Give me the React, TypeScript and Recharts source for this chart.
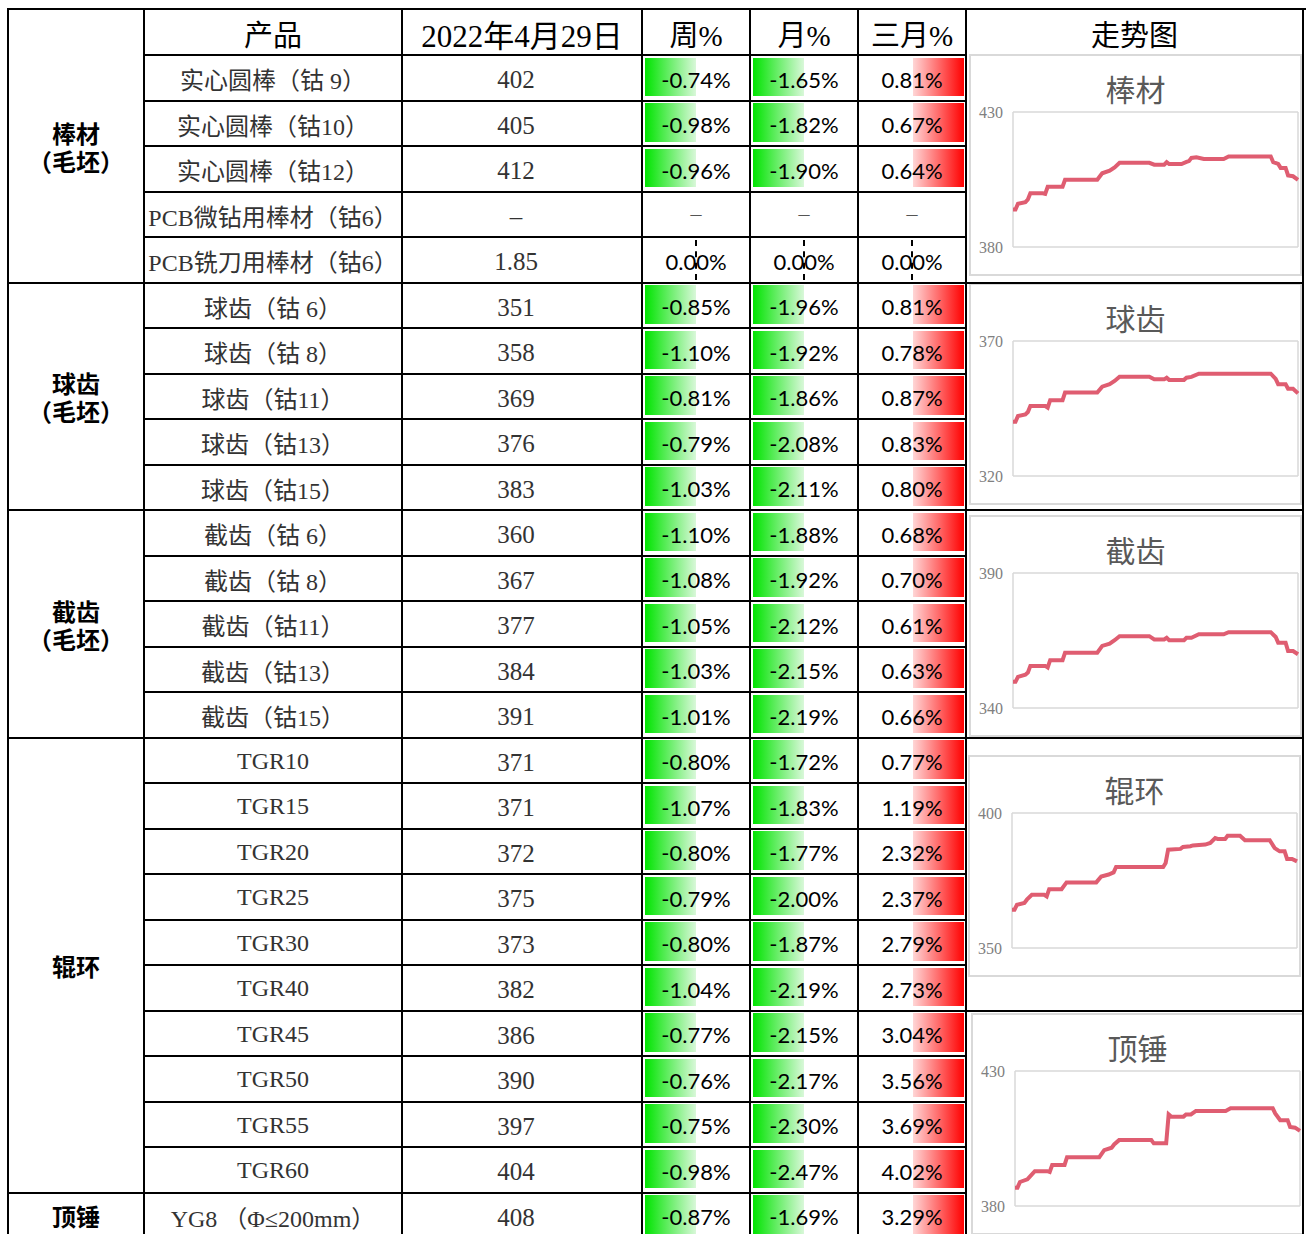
import React from 'react';
import { LineChart, Line, XAxis, YAxis, CartesianGrid } from 'recharts';

// table rows
const products = [
  '实心圆棒（钴 9）', '实心圆棒（钴10）', '实心圆棒（钴12）', 'PCB微钻用棒材（钴6）', 'PCB铣刀用棒材（钴6）',
  '球齿（钴 6）', '球齿（钴 8）', '球齿（钴11）', '球齿（钴13）', '球齿（钴15）',
  '截齿（钴 6）', '截齿（钴 8）', '截齿（钴11）', '截齿（钴13）', '截齿（钴15）',
  'TGR10', 'TGR15', 'TGR20', 'TGR25', 'TGR30', 'TGR40', 'TGR45', 'TGR50', 'TGR55', 'TGR60',
  'YG8 （Φ≤200mm）',
];
const prices = [
  '402', '405', '412', '–', '1.85',
  '351', '358', '369', '376', '383',
  '360', '367', '377', '384', '391',
  '371', '371', '372', '375', '373', '382', '386', '390', '397', '404',
  '408',
];
const weekPct = [
  -0.74, -0.98, -0.96, null, 0,
  -0.85, -1.10, -0.81, -0.79, -1.03,
  -1.10, -1.08, -1.05, -1.03, -1.01,
  -0.80, -1.07, -0.80, -0.79, -0.80, -1.04, -0.77, -0.76, -0.75, -0.98,
  -0.87,
];
const monthPct = [
  -1.65, -1.82, -1.90, null, 0,
  -1.96, -1.92, -1.86, -2.08, -2.11,
  -1.88, -1.92, -2.12, -2.15, -2.19,
  -1.72, -1.83, -1.77, -2.00, -1.87, -2.19, -2.15, -2.17, -2.30, -2.47,
  -1.69,
];
const quarterPct = [
  0.81, 0.67, 0.64, null, 0,
  0.81, 0.78, 0.87, 0.83, 0.80,
  0.68, 0.70, 0.61, 0.63, 0.66,
  0.77, 1.19, 2.32, 2.37, 2.79, 2.73, 3.04, 3.56, 3.69, 4.02,
  3.29,
];

const groupNames = ['棒材', '球齿', '截齿', '辊环', '顶锤'];
const groupSubs = ['（毛坯）', '（毛坯）', '（毛坯）', '', ''];
const groupRows = [5, 5, 5, 10, 1];
const headers = ['产品', '2022年4月29日', '周%', '月%', '三月%', '走势图'];

// trend charts: days since Jan 1, price
const monthTicks = [0, 31, 59, 90];

const barDays = [0, 1, 2, 5, 6, 7, 12, 13, 14, 20, 21, 34, 36, 39, 41, 43, 55, 57, 61, 62, 63, 68, 70, 71, 72, 74, 77, 85, 87, 104, 105, 107, 108, 110, 111, 113, 115];
const barPrices = [393.9, 393.9, 396.0, 396.6, 397.6, 399.9, 399.9, 399.7, 402.3, 402.3, 404.9, 404.9, 407.3, 408.3, 409.5, 411.2, 411.2, 410.5, 410.5, 411.4, 410.7, 410.7, 411.5, 411.8, 413.0, 413.2, 412.6, 412.6, 413.5, 413.5, 411.4, 410.8, 409.3, 409.3, 406.5, 406.2, 404.9];

const ballDays = [0, 1, 2, 5, 6, 7, 13, 14, 15, 20, 21, 34, 36, 39, 41, 43, 55, 57, 61, 62, 63, 69, 70, 72, 75, 104, 106, 107, 110, 111, 113, 115];
const ballPrices = [340.1, 340.1, 342.2, 342.8, 343.7, 345.9, 345.9, 345.3, 348.1, 348.1, 350.9, 350.9, 353.1, 354.0, 355.2, 356.8, 356.8, 355.8, 355.8, 356.4, 355.6, 355.6, 356.4, 356.7, 357.9, 357.9, 356.0, 354.0, 354.0, 352.3, 352.3, 350.6];

const pickDays = [0, 1, 2, 5, 6, 7, 13, 14, 15, 20, 21, 34, 36, 39, 41, 43, 55, 57, 61, 62, 63, 69, 70, 72, 75, 85, 87, 104, 106, 107, 110, 111, 113, 115];
const pickPrices = [349.7, 349.7, 351.5, 352.3, 353.1, 355.6, 355.6, 355.0, 357.7, 357.7, 360.5, 360.5, 363.0, 363.8, 365.1, 366.6, 366.6, 365.4, 365.4, 366.0, 365.1, 365.1, 366.0, 366.0, 367.3, 367.3, 368.1, 368.1, 366.3, 364.2, 364.2, 361.1, 361.1, 359.9];

const rollDays = [0, 1, 2, 5, 6, 8, 13, 14, 15, 20, 22, 34, 36, 39, 41, 42, 61, 62, 63, 68, 69, 72, 73, 78, 80, 82, 83, 86, 87, 92, 94, 104, 106, 108, 110, 111, 113, 115];
const rollPrices = [364.2, 364.2, 366.0, 366.7, 367.9, 369.7, 369.7, 369.1, 371.8, 371.8, 374.3, 374.3, 376.5, 377.2, 378.0, 380.0, 380.0, 381.5, 386.4, 386.7, 387.4, 387.7, 388.0, 388.3, 388.9, 390.7, 390.4, 390.4, 391.6, 391.6, 389.9, 389.9, 387.0, 385.8, 385.8, 383.0, 383.0, 382.1];

const hammerDays = [0, 1, 2, 5, 6, 8, 13, 14, 15, 20, 21, 34, 36, 39, 40, 42, 55, 56, 61, 62, 63, 68, 69, 71, 73, 85, 87, 104, 105, 107, 110, 111, 113, 115];
const hammerPrices = [386.8, 386.8, 388.9, 389.9, 390.9, 392.9, 392.9, 392.6, 395.2, 395.2, 398.1, 398.1, 400.7, 401.6, 402.8, 404.4, 404.4, 403.2, 403.2, 413.9, 413.1, 413.1, 413.9, 413.9, 415.2, 415.2, 416.2, 416.2, 414.3, 411.8, 411.8, 409.3, 409.0, 407.8];

const CJK = '"Noto Sans CJK SC", sans-serif';
const SERIF = '"Liberation Serif", "Noto Sans CJK SC", serif';
const PCT = 'Lato, "Noto Sans", sans-serif';

const colX = [8, 144, 402, 642, 750, 858, 966, 1303];
const ROW0 = 55;
const ROW_H = 45.5;
const rowTop = (i: number) => ROW0 + i * ROW_H;

function HLine({ y, x1, x2 }: { y: number; x1: number; x2: number }) {
  return <div style={{ position: 'absolute', left: x1, top: y - 1, width: x2 - x1, height: 2, background: '#000' }} />;
}
function VLine({ x, y1, y2 }: { x: number; y1: number; y2: number }) {
  return <div style={{ position: 'absolute', left: x - 1, top: y1, width: 2, height: y2 - y1, background: '#000' }} />;
}

function Cell({ x1, x2, y1, y2, children, style }: {
  x1: number; x2: number; y1: number; y2: number; children?: React.ReactNode; style?: React.CSSProperties;
}) {
  return (
    <div style={{
      position: 'absolute', left: x1, top: y1, width: x2 - x1, height: y2 - y1, boxSizing: 'border-box',
      display: 'flex', alignItems: 'center', justifyContent: 'center', whiteSpace: 'nowrap', ...style,
    }}>
      {children}
    </div>
  );
}

function PctCell({ value, col, row }: { value: number | null; col: number; row: number }) {
  const x1 = colX[col];
  const x2 = colX[col + 1];
  const mid = (x1 + x2) / 2;
  const y1 = rowTop(row);
  const y2 = y1 + ROW_H;
  if (value === null) {
    return <Cell x1={x1} x2={x2} y1={y1} y2={y2} style={{ fontFamily: SERIF, fontSize: 22, color: '#555' }}>–</Cell>;
  }
  return (
    <>
      {value < 0 && (
        <div style={{
          position: 'absolute', left: x1 + 3, top: y1 + 2.5, width: mid - x1 - 3, height: ROW_H - 7,
          background: 'linear-gradient(to right, #00e400 0%, #d9f8d9 100%)',
        }} />
      )}
      {value > 0 && (
        <div style={{
          position: 'absolute', left: mid + 1, top: y1 + 2.5, width: x2 - mid - 3, height: ROW_H - 7,
          background: 'linear-gradient(to right, #ffd6d6 0%, #ff0000 100%)',
        }} />
      )}
      {value === 0 && (
        <div style={{ position: 'absolute', left: mid - 1, top: y1 + 3, height: ROW_H - 6, borderLeft: '2px dashed #000' }} />
      )}
      <Cell x1={x1} x2={x2} y1={y1} y2={y2} style={{ fontFamily: PCT, fontSize: 22, color: '#000', paddingTop: 3 }}>
        {value.toFixed(2) + '%'}
      </Cell>
    </>
  );
}

function TrendChart({ title, days, prices, yMin, yMax, left, top }: {
  title: string; days: number[]; prices: number[]; yMin: number; yMax: number; left: number; top: number;
}) {
  const data = days.map((d, i) => ({ d, v: prices[i] }));
  return (
    <div style={{
      position: 'absolute', left, top, width: 333, height: 222, boxSizing: 'border-box',
      border: '2px solid #d9d9d9', background: '#fff',
    }}>
      <div style={{
        position: 'absolute', left: 0, right: 0, top: 12, lineHeight: '40px', textAlign: 'center',
        fontSize: 30, color: '#595959', fontFamily: CJK,
      }}>{title}</div>
      <div style={{ position: 'absolute', left: 0, top: 0 }}>
        <LineChart width={329} height={218} data={data} margin={{ top: 56, right: 2, bottom: 0, left: 0 }}>
          <CartesianGrid stroke="#d9d9d9" strokeWidth={1.5} />
          <XAxis type="number" dataKey="d" domain={[0, 115]} ticks={monthTicks} tick={false}
            axisLine={false} tickLine={false} height={27} />
          <YAxis type="number" domain={[yMin, yMax]} ticks={[yMin, yMax]} width={42}
            tick={{ fill: '#808080', fontSize: 16, fontFamily: SERIF }}
            axisLine={false} tickLine={false} tickMargin={4} />
          <Line type="linear" dataKey="v" stroke="#DF5D71" strokeWidth={4} dot={false} isAnimationActive={false} />
        </LineChart>
      </div>
    </div>
  );
}

export default function App() {
  const groupStarts = groupRows.map((_, g) => groupRows.slice(0, g).reduce((a, b) => a + b, 0));
  const boundaries = groupStarts.slice(1).concat([26]);
  const bottom = 1234;

  return (
    <div style={{ position: 'absolute', left: 0, top: 0, width: 1306, height: 1234, overflow: 'hidden', background: '#fff' }}>
      {/* header */}
      {headers.map((h, i) => (
        <Cell key={h} x1={colX[i + 1]} x2={colX[i + 2]} y1={9} y2={55}
          style={{ fontFamily: SERIF, fontSize: i === 1 ? 31 : 29, color: '#000', paddingTop: 2 }}>{h}</Cell>
      ))}

      {/* group labels */}
      {groupNames.map((g, i) => {
        const y1 = i === 0 ? 9 : rowTop(groupStarts[i]);
        const y2 = rowTop(groupStarts[i] + groupRows[i]);
        return (
          <Cell key={g} x1={colX[0]} x2={colX[1]} y1={y1} y2={Math.min(y2, bottom + 4)}
            style={{
              fontFamily: CJK, fontSize: 24, fontWeight: 600, color: '#000', lineHeight: '28px',
              whiteSpace: 'pre-line', textAlign: 'center', paddingTop: 2,
            }}>
            {groupSubs[i] ? g + '\n' + groupSubs[i] : g}
          </Cell>
        );
      })}

      {/* rows */}
      {products.map((p, r) => (
        <React.Fragment key={p}>
          <Cell x1={colX[1]} x2={colX[2]} y1={rowTop(r)} y2={rowTop(r) + ROW_H}
            style={{ fontFamily: SERIF, fontSize: 24, color: '#333', paddingTop: 2 }}>{p}</Cell>
          <Cell x1={colX[2]} x2={colX[3]} y1={rowTop(r)} y2={rowTop(r) + ROW_H}
            style={{ fontFamily: SERIF, fontSize: 25, color: '#333', paddingTop: 5, paddingRight: 12 }}>{prices[r]}</Cell>
          <PctCell value={weekPct[r]} col={3} row={r} />
          <PctCell value={monthPct[r]} col={4} row={r} />
          <PctCell value={quarterPct[r]} col={5} row={r} />
        </React.Fragment>
      ))}

      {/* trend charts */}
      <TrendChart title="棒材" days={barDays} prices={barPrices} yMin={380} yMax={430} left={969} top={54} />
      <TrendChart title="球齿" days={ballDays} prices={ballPrices} yMin={320} yMax={370} left={969} top={283} />
      <TrendChart title="截齿" days={pickDays} prices={pickPrices} yMin={340} yMax={390} left={969} top={515} />
      <TrendChart title="辊环" days={rollDays} prices={rollPrices} yMin={350} yMax={400} left={968} top={755} />
      <TrendChart title="顶锤" days={hammerDays} prices={hammerPrices} yMin={380} yMax={430} left={971} top={1013} />

      {/* grid lines */}
      <HLine y={9} x1={7} x2={1306} />
      <HLine y={55} x1={143} x2={967} />
      {Array.from({ length: 25 }, (_, k) => k + 1).map((i) => {
        const isGroup = boundaries.includes(i);
        return <HLine key={i} y={rowTop(i)} x1={isGroup ? 7 : 143} x2={967} />;
      })}
      {[5, 10, 15, 21].map((i) => (
        <HLine key={'c' + i} y={rowTop(i)} x1={966} x2={1304} />
      ))}
      {colX.map((x) => (
        <VLine key={x} x={x} y1={8} y2={bottom} />
      ))}
    </div>
  );
}
